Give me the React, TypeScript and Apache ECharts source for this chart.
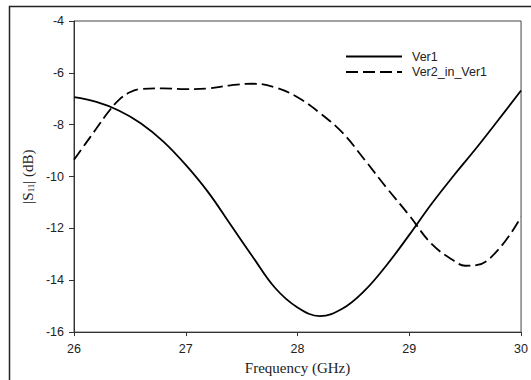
import React, { useEffect, useRef } from "react";
import * as echarts from "echarts";

const ver1Freq = [26, 26.2, 26.4, 26.6, 26.8, 27, 27.2, 27.4, 27.6, 27.8, 28, 28.2, 28.4, 28.6, 28.8, 29, 29.2, 29.4, 29.6, 29.8, 30];
const ver1Vals = [-6.94, -7.12, -7.45, -7.95, -8.65, -9.55, -10.6, -11.85, -13.1, -14.3, -15.05, -15.38, -15.1, -14.4, -13.4, -12.25, -11.05, -9.95, -8.9, -7.8, -6.68];

const ver2Freq = [26, 26.1, 26.2, 26.3, 26.4, 26.5, 26.6, 26.8, 27, 27.2, 27.4, 27.6, 27.8, 28, 28.2, 28.4, 28.6, 28.8, 29, 29.2, 29.4, 29.5, 29.6, 29.8, 30];
const ver2Vals = [-9.35, -8.75, -8.15, -7.55, -7.05, -6.75, -6.62, -6.6, -6.63, -6.6, -6.48, -6.42, -6.56, -6.94, -7.55, -8.3, -9.35, -10.45, -11.5, -12.6, -13.25, -13.44, -13.42, -12.8, -11.56];

const seriesNames = ["Ver1", "Ver2_in_Ver1"];
const xTicks = [26, 27, 28, 29, 30];
const yTicks = [-16, -14, -12, -10, -8, -6, -4];

export default function App() {
  const ref = useRef<HTMLDivElement>(null);
  useEffect(() => {
    if (!ref.current) return;
    const chart = echarts.init(ref.current, undefined, { renderer: "svg" });
    const pair = (xs: number[], ys: number[]) => xs.map((x, i) => [x, ys[i]]);
    chart.setOption({
      animation: false,
      backgroundColor: "#fff",
      grid: {
        left: 74,
        top: 21,
        right: 6,
        bottom: 43,
        show: true,
        borderColor: "#444",
        borderWidth: 1,
      },
      graphic: [
        {
          type: "rect",
          shape: { x: 9.5, y: 6.5, width: 600, height: 500 },
          style: { fill: "none", stroke: "#222", lineWidth: 1.5 },
          silent: true,
          z: -1,
        },
      ],
      legend: {
        orient: "vertical",
        left: 340,
        top: 45,
        itemWidth: 56,
        itemHeight: 14,
        itemGap: 2.6,
        data: seriesNames,
        itemStyle: { opacity: 0 },
        textStyle: {
          fontFamily: "Liberation Sans, Arial, sans-serif",
          fontSize: 12.5,
          color: "#222",
          padding: [0, 0, 0, 5],
        },
      },
      xAxis: {
        type: "value",
        min: xTicks[0],
        max: xTicks[xTicks.length - 1],
        interval: 1,
        name: "Frequency (GHz)",
        nameLocation: "middle",
        nameGap: 22,
        nameTextStyle: {
          fontFamily: "Liberation Serif, Times New Roman, serif",
          fontSize: 15,
          color: "#222",
        },
        axisLine: { lineStyle: { color: "#333", width: 1 } },
        axisTick: { show: true, length: 4, inside: false, lineStyle: { color: "#333" } },
        axisLabel: {
          margin: 10,
          fontFamily: "Liberation Sans, Arial, sans-serif",
          fontSize: 12.5,
          color: "#222",
        },
        splitLine: { show: false },
      },
      yAxis: {
        type: "value",
        min: yTicks[0],
        max: yTicks[yTicks.length - 1],
        interval: 2,
        name: "|S{sub|11}| (dB)",
        nameLocation: "middle",
        nameGap: 39,
        nameTextStyle: {
          fontFamily: "Liberation Serif, Times New Roman, serif",
          fontSize: 15,
          color: "#222",
          rich: {
            sub: {
              fontFamily: "Liberation Serif, Times New Roman, serif",
              fontSize: 9,
              color: "#222",
              verticalAlign: "bottom",
              padding: [6, 0, 0, 0],
            },
          },
        },
        axisLine: { show: true, lineStyle: { color: "#333", width: 1 } },
        axisTick: { show: true, length: 5, inside: false, lineStyle: { color: "#333" } },
        axisLabel: {
          margin: 10,
          fontFamily: "Liberation Sans, Arial, sans-serif",
          fontSize: 12.5,
          color: "#222",
        },
        splitLine: { show: false },
      },
      series: [
        {
          name: seriesNames[0],
          type: "line",
          data: pair(ver1Freq, ver1Vals),
          smooth: 0.4,
          symbol: "none",
          lineStyle: { color: "#000", width: 1.8, type: "solid" },
          itemStyle: { color: "#000" },
        },
        {
          name: seriesNames[1],
          type: "line",
          data: pair(ver2Freq, ver2Vals),
          smooth: 0.4,
          symbol: "none",
          lineStyle: { color: "#000", width: 1.8, type: [12, 5] },
          itemStyle: { color: "#000" },
        },
      ],
    });
    return () => chart.dispose();
  }, []);
  return <div ref={ref} style={{ width: 531, height: 380, position: "absolute", left: 0, top: 0 }} />;
}
